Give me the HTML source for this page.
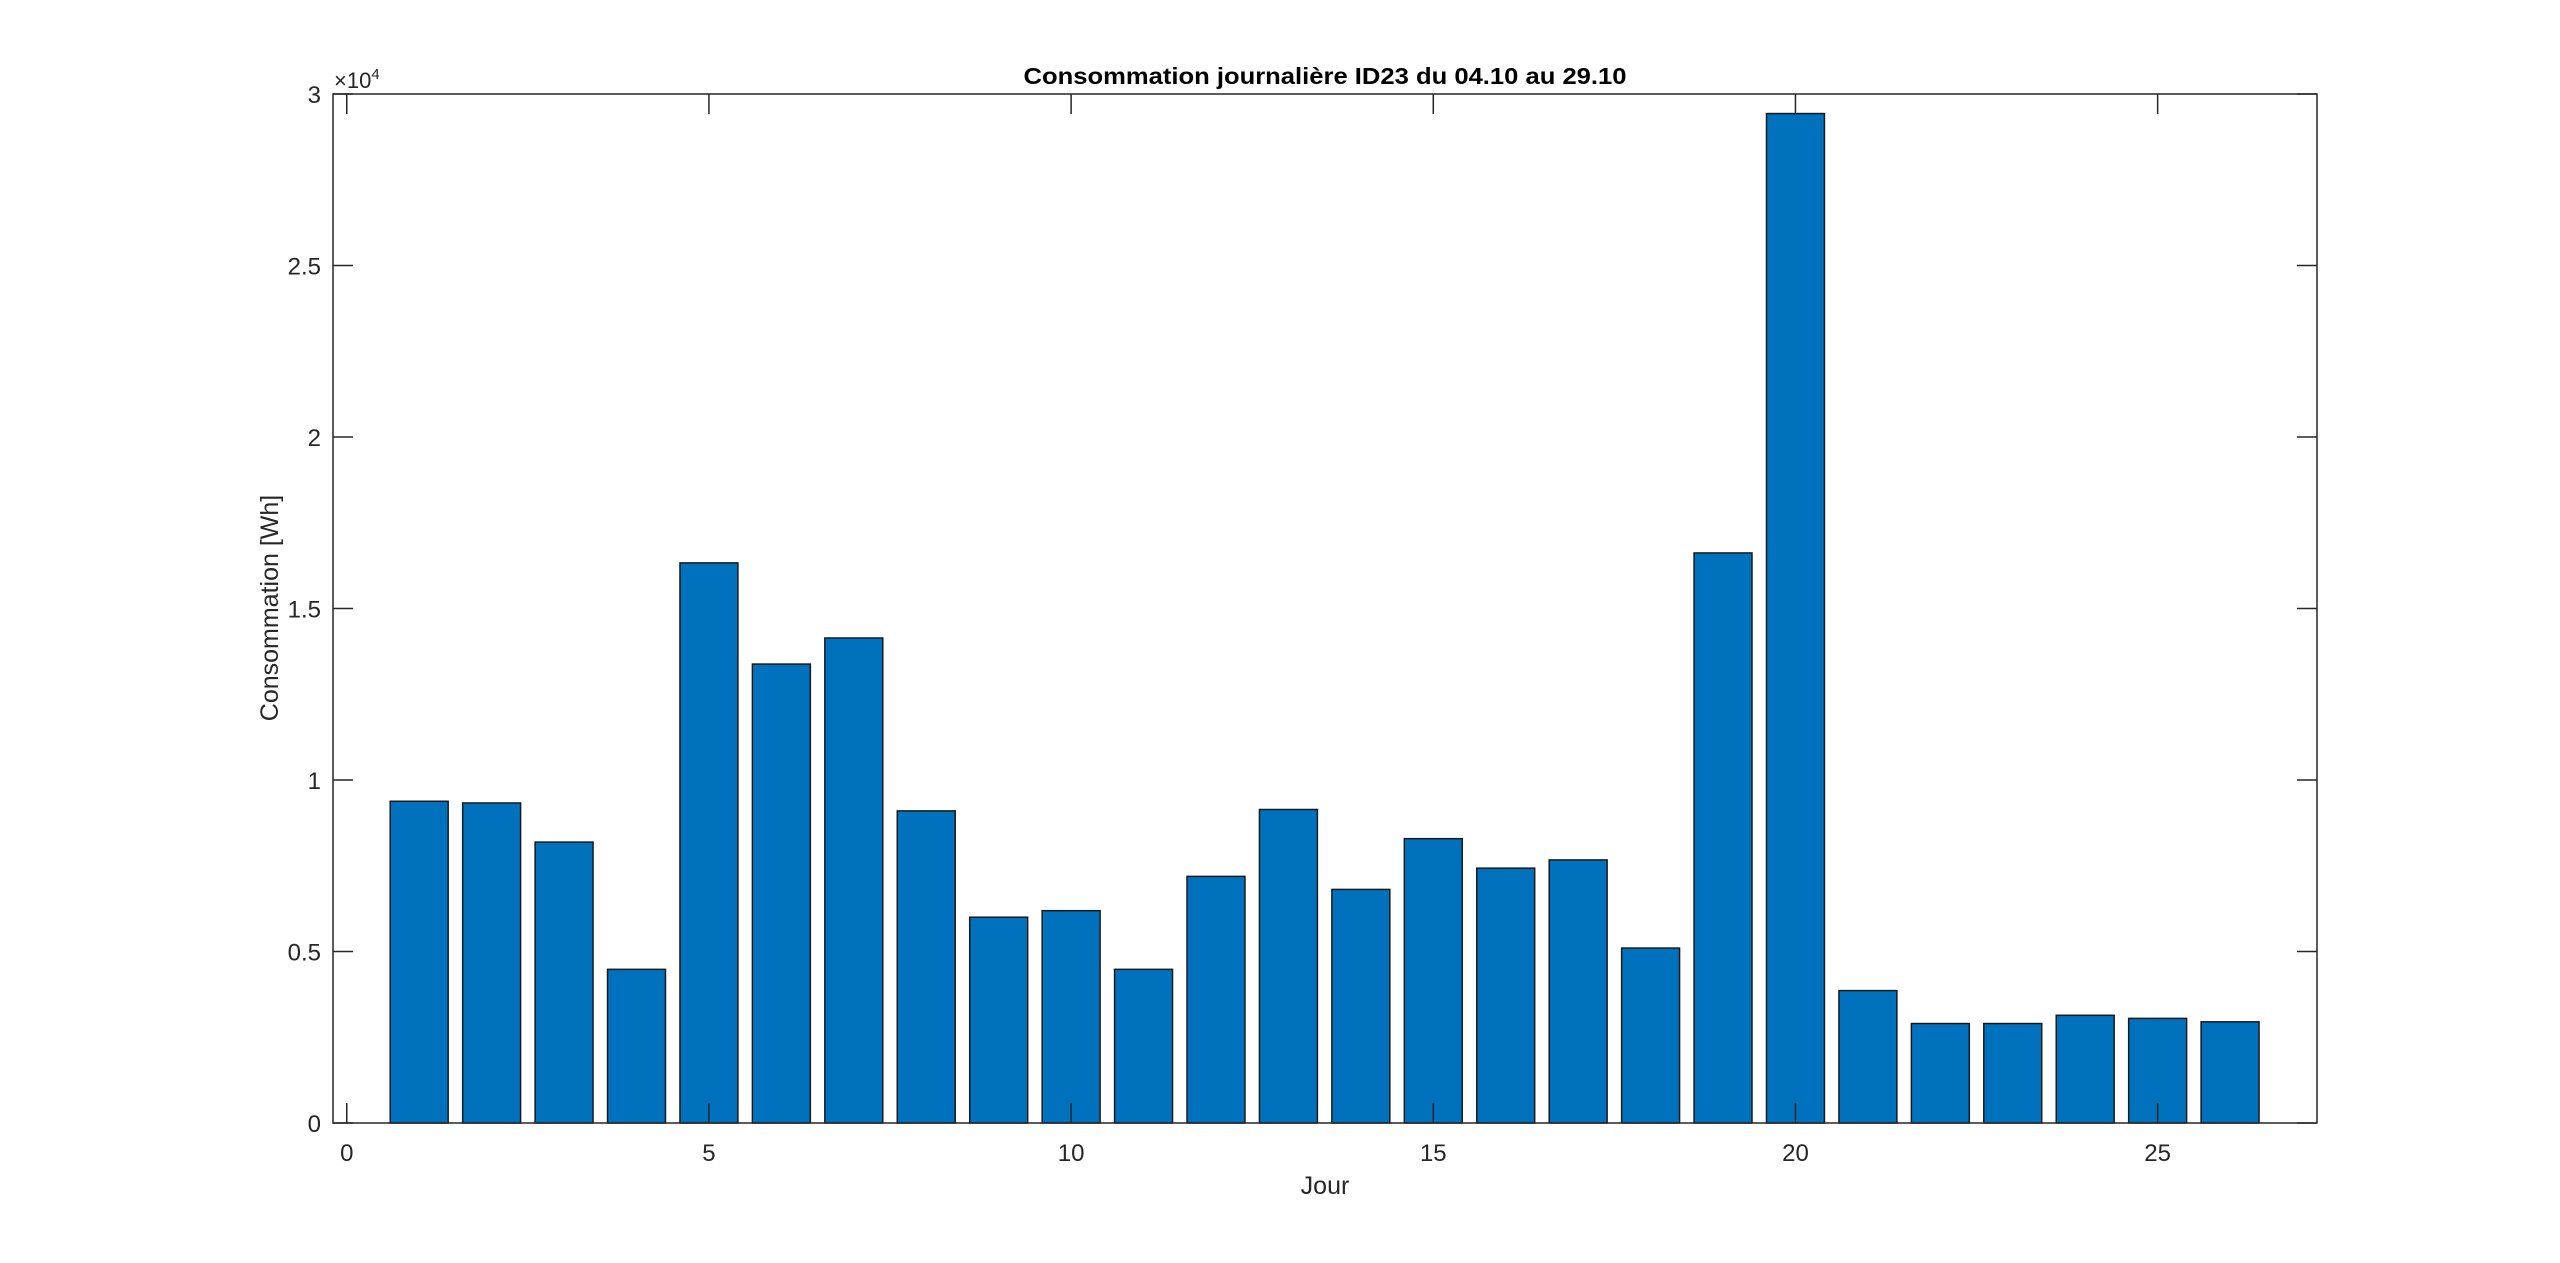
<!DOCTYPE html>
<html><head><meta charset="utf-8"><style>
html,body{margin:0;padding:0;background:#fff;}
svg{display:block;font-family:"Liberation Sans",Arial,sans-serif;}
</style></head><body>
<svg id="chart" width="2560" height="1263" viewBox="0 0 2560 1263"></svg>
<script>
const days = [1,2,3,4,5,6,7,8,9,10,11,12,13,14,15,16,17,18,19,20,21,22,23,24,25,26];
const values = [9380,9330,8190,4480,16330,13380,14140,9100,6000,6190,4480,7190,9140,6810,8290,7430,7670,5100,16620,29430,3860,2900,2900,3140,3050,2950];
const xTicks = [0,5,10,15,20,25];
const yTicks = [0,0.5,1,1.5,2,2.5,3];
const yTickLabels = ["0","0.5","1","1.5","2","2.5","3"];

const NS="http://www.w3.org/2000/svg";
const svg=document.getElementById('chart');
const L=333,R=2317,T=94,B=1123;
const xMin=-0.19,xMax=27.2,yMax=30000;
const xs=v=>L+(v-xMin)/(xMax-xMin)*(R-L);
const ys=v=>B-v/yMax*(B-T);
function mk(tag,attrs,parent){const e=document.createElementNS(NS,tag);for(const k in attrs)e.setAttribute(k,attrs[k]);(parent||svg).appendChild(e);return e;}

const bars=mk('g',{});


const bw=0.8;
days.forEach((d,i)=>{
  const x0=xs(d-bw/2),x1=xs(d+bw/2),y0=ys(values[i]);
  const r=mk('rect',{x:x0,y:y0,width:x1-x0,height:B-y0,fill:'#0072BD',stroke:'#1a1a1a','stroke-width':1.5},bars);
  
  
});

const ax=mk('g',{stroke:'#262626','stroke-width':1.5,fill:'none'});


mk('rect',{x:L,y:T,width:R-L,height:B-T},ax);
const tl=20;
xTicks.forEach(t=>{const x=xs(t);
  mk('line',{x1:x,y1:B,x2:x,y2:B-tl},ax);mk('line',{x1:x,y1:T,x2:x,y2:T+tl},ax);
  const tx=mk('text',{x:x,y:B+38,'text-anchor':'middle','font-size':24,fill:'#262626',stroke:'none'});
  tx.textContent=t;
  
  
});
yTicks.forEach((t,i)=>{const y=ys(t*10000);
  mk('line',{x1:L,y1:y,x2:L+tl,y2:y},ax);mk('line',{x1:R,y1:y,x2:R-tl,y2:y},ax);
  const tx=mk('text',{x:L-12,y:y+9,'text-anchor':'end','font-size':24,fill:'#262626',stroke:'none'});
  tx.textContent=yTickLabels[i];
  
  
});
const ex=mk('text',{x:334,y:88,'font-size':22,fill:'#262626'});
ex.innerHTML='×10<tspan dy="-9" font-size="15">4</tspan>';


const title=mk('text',{x:1325,y:84,'text-anchor':'middle','font-size':23,'font-weight':'bold',fill:'#000',textLength:603,lengthAdjust:'spacingAndGlyphs'});
title.textContent='Consommation journalière ID23 du 04.10 au 29.10';


const xl=mk('text',{x:1325,y:1194,'text-anchor':'middle','font-size':25,fill:'#262626'});
xl.textContent='Jour';


const yl=mk('text',{x:0,y:0,'text-anchor':'middle','font-size':25,fill:'#262626',transform:'translate(278,608) rotate(-90)'});
yl.textContent='Consommation [Wh]';


</script>
</body></html>
